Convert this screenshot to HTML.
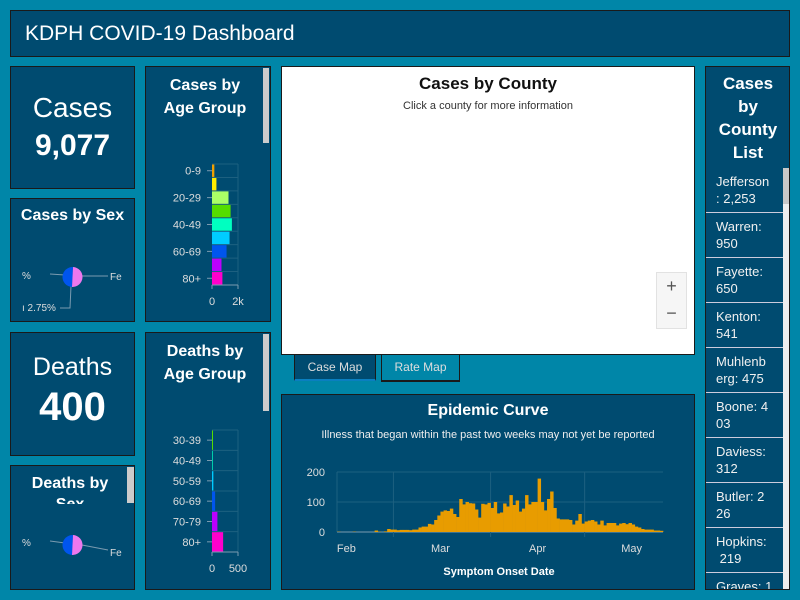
<!DOCTYPE html>
<html><head><meta charset="utf-8">
<style>
*{box-sizing:border-box;margin:0;padding:0}
body{width:800px;height:600px;background:#0086a8;font-family:"Liberation Sans",sans-serif;color:#fff;position:relative;overflow:hidden}
.p{position:absolute;background:#004b70;border:1px solid #1a1a1a}
.t{position:absolute;left:0;right:0;text-align:center;font-weight:bold}
svg text{font-family:"Liberation Sans",sans-serif}
.sb{position:absolute;background:#ccc}
.item{position:absolute;left:0;width:77px;height:45px;border-bottom:1px solid #ccd;font-size:13px;padding:5px 0 0 10px;line-height:17px;color:#f0f0f0}
</style></head><body>
<div class="p" style="left:10px;top:10px;width:780px;height:47px">
 <div style="position:absolute;left:14px;top:11px;font-size:21px">KDPH COVID-19 Dashboard</div>
</div>

<div class="p" style="left:10px;top:66px;width:125px;height:123px">
 <div class="t" style="top:25px;font-size:28px;font-weight:normal">Cases</div>
 <div class="t" style="top:62px;font-size:30px">9,077</div>
</div>

<div class="p" style="left:10px;top:198px;width:125px;height:124px">
 <div class="t" style="top:8px;font-size:16px">Cases by Sex</div>
 <svg width="125" height="124" style="position:absolute;left:-1px;top:-1px">
  <path d="M40 76 L55 77" stroke="#7a9bb0" fill="none"/>
  <path d="M72 78 L98 78" stroke="#7a9bb0" fill="none"/>
  <path d="M61 88 L60 110 L50 110" stroke="#7a9bb0" fill="none"/>
  <path d="M63 69 A10 10 0 0 0 62 89 Z" fill="#0055ee"/>
  <path d="M63 69 A10 10 0 1 1 62 89 Z" fill="#ee77ee"/>
  <text x="12" y="81" font-size="10" fill="#ddd">%</text>
  <text x="100" y="82" font-size="10" fill="#ddd">Fe</text>
  <text x="12" y="113" font-size="10" fill="#ddd">ı 2.75%</text>
 </svg>
</div>

<div class="p" style="left:10px;top:332px;width:125px;height:124px">
 <div class="t" style="top:20px;font-size:25px;font-weight:normal">Deaths</div>
 <div class="t" style="top:52px;font-size:40px">400</div>
</div>

<div class="p" style="left:10px;top:465px;width:125px;height:125px;overflow:hidden">
 <div style="position:absolute;left:0;width:118px;text-align:center;top:7px;font-size:16px;font-weight:bold;line-height:21px">Deaths by<br>Sex</div>
 <div style="position:absolute;left:0;top:38px;width:118px;height:30px;background:#004b70"></div>
 <div class="sb" style="left:116px;top:1px;width:7px;height:36px"></div>
 <svg width="125" height="125" style="position:absolute;left:-1px;top:-1px">
  <path d="M40 76 L55 78" stroke="#7a9bb0" fill="none"/>
  <path d="M72 80 L98 85" stroke="#7a9bb0" fill="none"/>
  <path d="M63 70 A10 10 0 0 0 62 90 Z" fill="#0055ee"/>
  <path d="M63 70 A10 10 0 1 1 62 90 Z" fill="#ee77ee"/>
  <text x="12" y="81" font-size="10" fill="#ddd">%</text>
  <text x="100" y="91" font-size="10" fill="#ddd">Fe</text>
 </svg>
</div>

<div class="p" style="left:145px;top:66px;width:126px;height:256px">
 <div style="position:absolute;left:0;width:118px;text-align:center;top:7px;font-size:16px;font-weight:bold;line-height:23px">Cases by<br>Age Group</div>
 <div class="sb" style="left:117px;top:1px;width:6px;height:75px"></div>
 <svg id="ageC" width="126" height="256" style="position:absolute;left:-1px;top:-1px"></svg>
</div>

<div class="p" style="left:145px;top:332px;width:126px;height:258px">
 <div style="position:absolute;left:0;width:118px;text-align:center;top:7px;font-size:16px;font-weight:bold;line-height:23px">Deaths by<br>Age Group</div>
 <div class="sb" style="left:117px;top:1px;width:6px;height:77px"></div>
 <svg id="ageD" width="126" height="258" style="position:absolute;left:-1px;top:-1px"></svg>
</div>

<div style="position:absolute;left:281px;top:66px;width:414px;height:289px;background:#fff;border:1px solid #1a1a1a;color:#222">
 <div class="t" style="top:7px;font-size:17px;color:#111">Cases by County</div>
 <div style="position:absolute;left:0;right:0;top:33px;text-align:center;font-size:11px;color:#333">Click a county for more information</div>
 <div style="position:absolute;left:374px;top:205px;width:31px;height:57px;background:#f6f6f6;border:1px solid #e2e2e2">
  <div style="height:28px;text-align:center;font-size:18px;line-height:26px;color:#555">+</div>
  <div style="height:28px;text-align:center;font-size:18px;line-height:24px;color:#555">−</div>
 </div>
</div>
<div style="position:absolute;left:294px;top:354px;width:82px;height:27px;background:#004b70;border:1px solid #1a1a1a;border-bottom:2px solid #0a7fc0;font-size:12px;text-align:center;line-height:24px;color:#ddd">Case Map</div>
<div style="position:absolute;left:381px;top:354px;width:79px;height:28px;background:#0086a8;border:1px solid #1a1a1a;border-bottom:2px solid #1a1a1a;font-size:12px;text-align:center;line-height:24px;color:#ddd">Rate Map</div>

<div class="p" style="left:281px;top:394px;width:414px;height:196px">
 <div class="t" style="top:7px;font-size:16px">Epidemic Curve</div>
 <div style="position:absolute;left:0;right:0;top:34px;text-align:center;font-size:11px;color:#eee">Illness that began within the past two weeks may not yet be reported</div>
 <svg id="epi" width="414" height="196" style="position:absolute;left:-1px;top:-1px"></svg>
</div>

<div class="p" style="left:705px;top:66px;width:85px;height:524px;overflow:hidden">
 <div style="position:absolute;left:0;width:84px;text-align:center;top:5px;font-size:17px;font-weight:bold;line-height:23px">Cases<br>by<br>County<br>List</div>
 <div style="position:absolute;left:0;top:101px;width:84px;height:430px">
  <div class="item" style="top:0">Jefferson<br>: 2,253</div>
  <div class="item" style="top:45px">Warren:<br>950</div>
  <div class="item" style="top:90px">Fayette:<br>650</div>
  <div class="item" style="top:135px">Kenton:<br>541</div>
  <div class="item" style="top:180px">Muhlenb<br>erg: 475</div>
  <div class="item" style="top:225px">Boone: 4<br>03</div>
  <div class="item" style="top:270px">Daviess:<br>312</div>
  <div class="item" style="top:315px">Butler: 2<br>26</div>
  <div class="item" style="top:360px">Hopkins:<br>&nbsp;219</div>
  <div class="item" style="top:405px">Graves: 1</div>
  <div style="position:absolute;left:77px;top:0;width:7px;height:430px;background:#eee"><div style="height:36px;background:#c8c8c8"></div></div>
 </div>
</div>

<script>
const NS='http://www.w3.org/2000/svg';
function mk(p,tag,a){const e=document.createElementNS(NS,tag);for(const k in a)e.setAttribute(k,a[k]);p.appendChild(e);return e;}

// Cases by age group
const ageCats=['0-9','10-19','20-29','30-39','40-49','50-59','60-69','70-79','80+'];
const ageCases=[180,340,1270,1430,1530,1350,1120,730,800];
const ageColors=['#f0a000','#ffee00','#aaff66','#55dd00','#00ffc0','#00ccff','#0055ee','#bb00ff','#ff00cc'];
const ageTicks=[0,2000];
const ageTickLabels=['0','2k'];
// Deaths by age group
const dCats=['30-39','40-49','50-59','60-69','70-79','80+'];
const dVals=[2,5,26,60,104,214];
const dColors=['#55dd00','#00ccaa','#00ccff','#0055ee','#bb00ff','#ff00cc'];
const dTicks=[0,500];
const dTickLabels=['0','500'];

function hb(svg,cats,vals,cols,ticks,tlabs,max,y0,y1,every,pre){
  const x0=67,xw=26;const xs=v=>x0+v/max*xw;const rh=(y1-y0)/cats.length;
  for(let i=0;i<=cats.length;i++)mk(svg,'line',{x1:x0,x2:x0+xw,y1:y0+i*rh,y2:y0+i*rh,stroke:'#1d6080'});
  mk(svg,'line',{x1:x0+xw,x2:x0+xw,y1:y0,y2:y1,stroke:'#1d6080'});
  cats.forEach((c,i)=>{
   const r=mk(svg,'rect',{x:x0,y:y0+i*rh+0.5,width:Math.max(1,xs(vals[i])-x0),height:rh-1,fill:cols[i]});
   
   
   if(i%every===0){
    mk(svg,'line',{x1:x0-5,x2:x0,y1:y0+i*rh+rh/2,y2:y0+i*rh+rh/2,stroke:'#7a9bb0'});
    const t=mk(svg,'text',{x:x0-11,y:y0+i*rh+rh/2+4,'text-anchor':'end','font-size':11,fill:'#ddd'});t.textContent=c;
    
    
   }
  });
  mk(svg,'line',{x1:x0,x2:x0+xw,y1:y1,y2:y1,stroke:'#7a9bb0'});
  ticks.forEach((tk,i)=>{mk(svg,'line',{x1:xs(tk),x2:xs(tk),y1:y1,y2:y1+4,stroke:'#7a9bb0'});
   const t=mk(svg,'text',{x:xs(tk),y:y1+20,'text-anchor':'middle','font-size':11,fill:'#ddd'});t.textContent=tlabs[i];
   
   });
}
hb(document.getElementById('ageC'),ageCats,ageCases,ageColors,ageTicks,ageTickLabels,2000,98,219,2,'age');
hb(document.getElementById('ageD'),dCats,dVals,dColors,dTicks,dTickLabels,500,98,220,1,'deaths-age');
</script>
<script>
// Epidemic curve daily cases, Feb 12 - May 25
const epiFeb=[1,0,0,0,0,1,0,0,0,0,0,0,5,1,0,2,10,8];
const epiMar=[8,6,7,7,7,6,8,8,15,18,18,27,25,40,55,68,72,70,78,60,50,110,92,100,96,95,75,48,94,92,97];
const epiApr=[80,100,62,65,95,85,123,90,105,68,78,123,92,100,100,178,100,72,110,135,80,45,42,42,42,40,25,38,60,28];
const epiMay=[35,38,40,35,25,38,22,30,30,30,22,28,30,26,30,25,18,15,10,8,8,8,5,5,4];
const epiTicks=[0,100,200];
const epiMonths=['Feb','Mar','Apr','May'];
const epiMonthStart=[-12,18,49,79];
(function(){
 const svg=document.getElementById('epi');
 const vals=epiFeb.concat(epiMar,epiApr,epiMay);
 const x0=56,x1=382,y0=138,yt=78;const n=vals.length;const dw=(x1-x0)/n;
 const xs=i=>x0+i*dw;const ys=v=>y0-(v/200)*(y0-yt);
 epiTicks.forEach(t=>{mk(svg,'line',{x1:x0,x2:x1,y1:ys(t),y2:ys(t),stroke:t?'#1d6080':'#7a9bb0'});
  const tx=mk(svg,'text',{x:x0-12,y:ys(t)+4,'text-anchor':'end','font-size':11,fill:'#ddd'});tx.textContent=t;
  
  });
 mk(svg,'line',{x1:x0,x2:x0,y1:yt,y2:y0,stroke:'#1d6080'});
 epiMonths.forEach((m,i)=>{const st=epiMonthStart[i];
  if(st>=0)mk(svg,'line',{x1:xs(st),x2:xs(st),y1:yt,y2:y0+5,stroke:'#1d6080'});
  const t=mk(svg,'text',{x:xs(st+15),y:y0+20,'text-anchor':'middle','font-size':11,fill:'#ddd'});t.textContent=m;
  
  });
 vals.forEach((v,i)=>{const r=mk(svg,'rect',{x:xs(i),y:ys(v),width:dw+0.3,height:y0-ys(v),fill:'#e89c00'});
  
  });
 const xl=mk(svg,'text',{x:218,y:181,'text-anchor':'middle','font-size':11,'font-weight':'bold',fill:'#fff'});xl.textContent='Symptom Onset Date';
 
 
})();
</script>
</body></html>
